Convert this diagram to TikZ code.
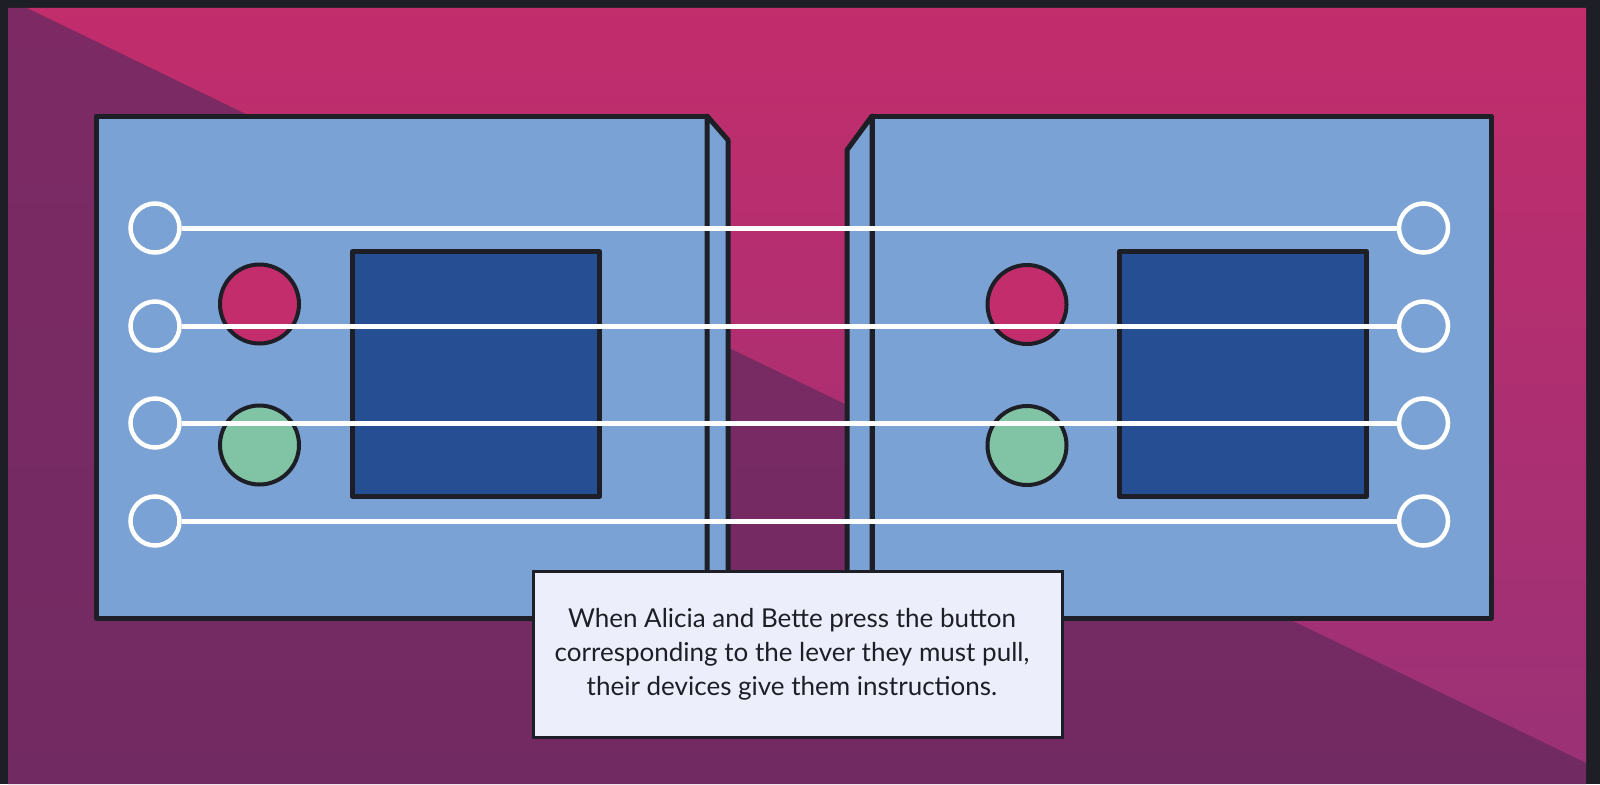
\documentclass[tikz,border=0pt]{standalone}
\usepackage{fontspec}
\setmainfont{Lato}
\definecolor{ink}{HTML}{1E1F26}
\definecolor{pinktop}{HTML}{C22D6C}
\definecolor{pinkbot}{HTML}{9B3176}
\definecolor{purtop}{HTML}{7D2A64}
\definecolor{purbot}{HTML}{722A62}
\definecolor{devblue}{HTML}{7BA2D5}
\definecolor{screen}{HTML}{264F93}
\definecolor{btnred}{HTML}{C42D6C}
\definecolor{btngreen}{HTML}{80C4A5}
\definecolor{boxfill}{HTML}{ECEEFB}
\tikzset{
  device/.style={draw=ink, fill=devblue, line width=5, line join=round},
  screenbox/.style={draw=ink, fill=screen, line width=5, line join=round, minimum width=247, minimum height=245, inner sep=0},
  button/.style={circle, draw=ink, line width=4, minimum size=79, inner sep=0},
  lever/.style={circle, draw=white, line width=4.5, minimum size=49, inner sep=0},
  wire/.style={draw=white, line width=5},
  caption/.style={draw=ink, fill=boxfill, line width=3, minimum width=529, minimum height=166, inner sep=0}
}
\begin{document}
\begin{tikzpicture}[x=1pt,y=-1pt]
\useasboundingbox (0,0) rectangle (1600,784);
% frame
\fill[ink] (0,0) rectangle (1600,784);
% background halves
\shade[top color=purtop, bottom color=purbot] (8,8) -- (27,8) -- (1586,763) -- (1586,784) -- (8,784) -- cycle;
\shade[top color=pinktop, bottom color=pinkbot] (27,8) -- (1586,8) -- (1586,763) -- cycle;
% left device
\path[device] (96,116) rectangle (707,618);
\path[device] (707,116) -- (728,140) -- (728,618) -- (707,618) -- cycle;
% right device
\path[device] (872,116) rectangle (1491,618);
\path[device] (872,116) -- (847,150) -- (847,618) -- (872,618) -- cycle;
% buttons
\node[button, fill=btnred] (redL) at (259.5,304) {};
\node[button, fill=btngreen] (greenL) at (259.5,445) {};
\node[button, fill=btnred] (redR) at (1027,304.5) {};
\node[button, fill=btngreen] (greenR) at (1027,445.5) {};
% screens
\node[screenbox] (scrL) at (476,374) {};
\node[screenbox] (scrR) at (1243,374) {};
% levers
\node[lever] (L1) at (155,228) {};
\node[lever] (L2) at (155,326) {};
\node[lever] (L3) at (155,423) {};
\node[lever] (L4) at (155,521) {};
\node[lever] (R1) at (1423.5,228) {};
\node[lever] (R2) at (1423.5,326) {};
\node[lever] (R3) at (1423.5,423) {};
\node[lever] (R4) at (1423.5,521) {};
\draw[wire] (L1) -- (R1);
\draw[wire] (L2) -- (R2);
\draw[wire] (L3) -- (R3);
\draw[wire] (L4) -- (R4);
% caption
\node[caption] (box) at (798,654.5) {};
\node[font=\fontsize{26}{34}\selectfont, align=center, text=ink, inner sep=0] (text) at (792,654) {When Alicia and Bette press the button\\corresponding to the lever they must pull,\\their devices give them instructions.};
\end{tikzpicture}
\end{document}
